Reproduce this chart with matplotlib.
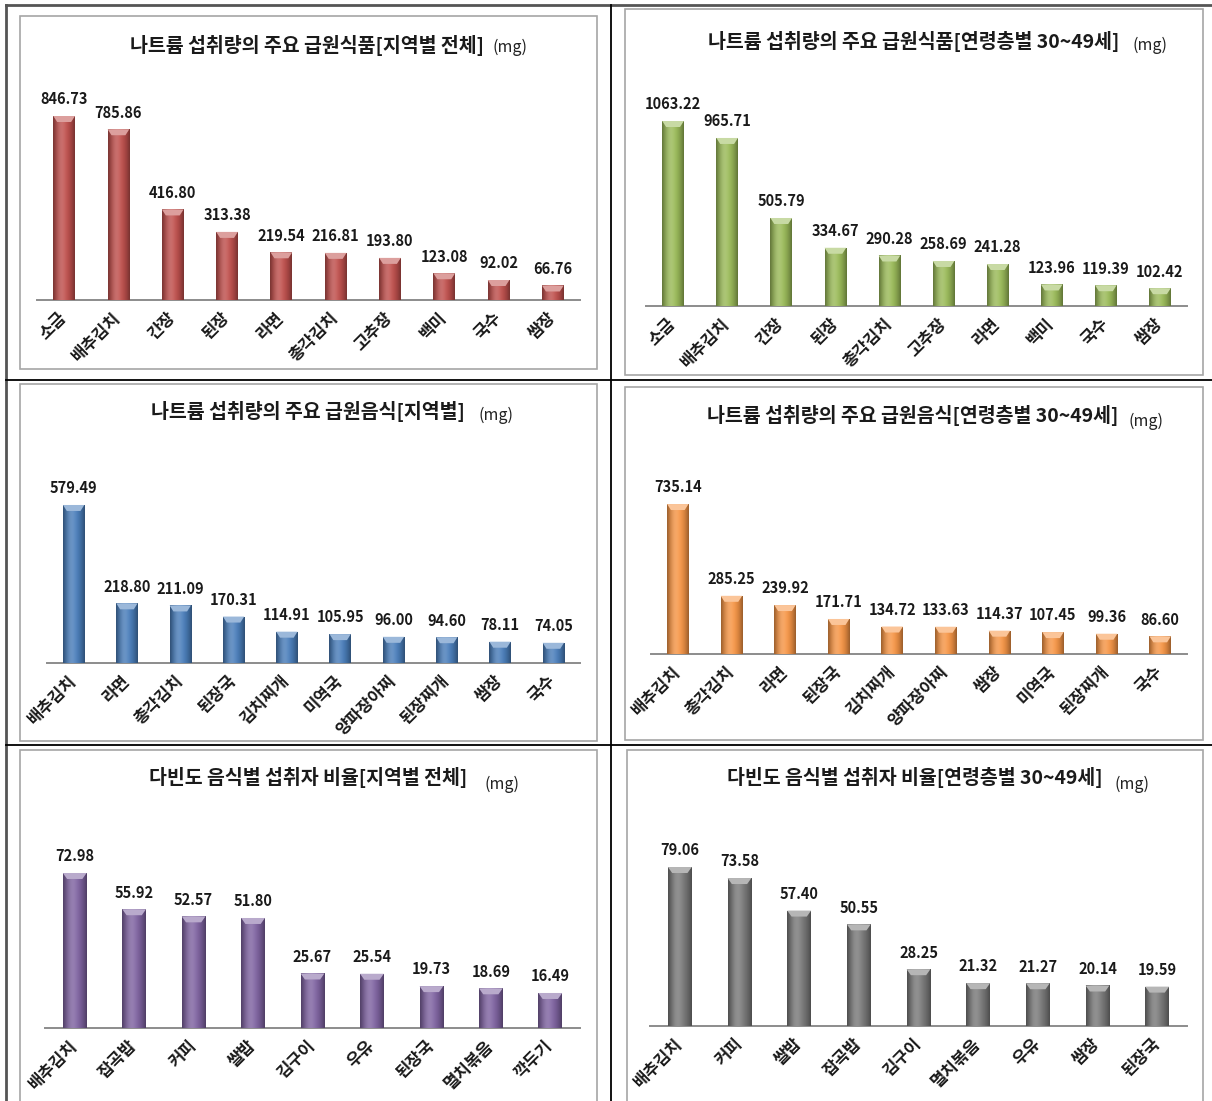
import numpy as np
import matplotlib
matplotlib.use('Agg')
import matplotlib.pyplot as plt
from matplotlib.patches import Rectangle, Polygon
from matplotlib.colors import to_rgb
from matplotlib.transforms import offset_copy

plt.rcParams['font.family'] = ['Noto Sans CJK KR', 'DejaVu Sans']

W, H = 1212, 1101

# 나트륨 주요 급원식품 (지역별 전체)
foods_all = ['소금', '배추김치', '간장', '된장', '라면', '총각김치', '고추장', '백미', '국수', '쌈장']
foods_all_mg = [846.73, 785.86, 416.80, 313.38, 219.54, 216.81, 193.80, 123.08, 92.02, 66.76]

# 나트륨 주요 급원식품 (30~49세)
foods_3049 = ['소금', '배추김치', '간장', '된장', '총각김치', '고추장', '라면', '백미', '국수', '쌈장']
foods_3049_mg = [1063.22, 965.71, 505.79, 334.67, 290.28, 258.69, 241.28, 123.96, 119.39, 102.42]

# 나트륨 주요 급원음식 (지역별)
dishes_all = ['배추김치', '라면', '총각김치', '된장국', '김치찌개', '미역국', '양파장아찌', '된장찌개', '쌈장', '국수']
dishes_all_mg = [579.49, 218.80, 211.09, 170.31, 114.91, 105.95, 96.00, 94.60, 78.11, 74.05]

# 나트륨 주요 급원음식 (30~49세)
dishes_3049 = ['배추김치', '총각김치', '라면', '된장국', '김치찌개', '양파장아찌', '쌈장', '미역국', '된장찌개', '국수']
dishes_3049_mg = [735.14, 285.25, 239.92, 171.71, 134.72, 133.63, 114.37, 107.45, 99.36, 86.60]

# 다빈도 음식별 섭취자 비율 (지역별 전체)
freq_all = ['배추김치', '잡곡밥', '커피', '쌀밥', '김구이', '우유', '된장국', '멸치볶음', '깍두기']
freq_all_pct = [72.98, 55.92, 52.57, 51.80, 25.67, 25.54, 19.73, 18.69, 16.49]

# 다빈도 음식별 섭취자 비율 (30~49세)
freq_3049 = ['배추김치', '커피', '쌀밥', '잡곡밥', '김구이', '멸치볶음', '우유', '쌈장', '된장국']
freq_3049_pct = [79.06, 73.58, 57.40, 50.55, 28.25, 21.32, 21.27, 20.14, 19.59]

# panel layout in pixels: inner box, axis line (x0, x1, baseline), px per unit
panels = [
    dict(cats=foods_all, vals=foods_all_mg, color='#C0504D',
         box=(20, 16, 597, 369), axis=(37, 580, 300), scale=0.2173,
         title='나트륨 섭취량의 주요 급원식품[지역별 전체]', tpos=(307, 46), mpos=(492, 47)),
    dict(cats=foods_3049, vals=foods_3049_mg, color='#9BBB59',
         box=(625, 9, 1203, 375), axis=(646, 1187, 306), scale=0.1740,
         title='나트륨 섭취량의 주요 급원식품[연령층별 30~49세]', tpos=(914, 41), mpos=(1132, 45)),
    dict(cats=dishes_all, vals=dishes_all_mg, color='#4A7EBB',
         box=(20, 384, 597, 741), axis=(47, 580, 663), scale=0.2727,
         title='나트륨 섭취량의 주요 급원음식[지역별]', tpos=(308, 412), mpos=(479, 415)),
    dict(cats=dishes_3049, vals=dishes_3049_mg, color='#F79646',
         box=(625, 387, 1203, 740), axis=(651, 1187, 654), scale=0.2040,
         title='나트륨 섭취량의 주요 급원음식[연령층별 30~49세]', tpos=(913, 416), mpos=(1129, 421)),
    dict(cats=freq_all, vals=freq_all_pct, color='#8064A2',
         box=(20, 750, 597, 1110), axis=(45, 580, 1028), scale=2.124,
         title='다빈도 음식별 섭취자 비율[지역별 전체]', tpos=(308, 778), mpos=(484, 784)),
    dict(cats=freq_3049, vals=freq_3049_pct, color='#7A7A7A',
         box=(627, 750, 1203, 1110), axis=(650, 1187, 1026), scale=2.011,
         title='다빈도 음식별 섭취자 비율[연령층별 30~49세]', tpos=(915, 778), mpos=(1114, 784)),
]


def mix(c, other, t):
    c, other = np.array(to_rgb(c)), np.array(to_rgb(other))
    return np.clip(c * (1 - t) + other * t, 0, 1)


def cylinder_bar(ax, x, h, width, color, px_unit):
    """Bar with a horizontal cylinder shading and a bevelled light cap"""
    rect = Rectangle((x - width / 2, 0), width, h, facecolor=color, edgecolor='none', zorder=2)
    ax.add_patch(rect)
    t = np.linspace(-1, 1, 64)
    base = np.array(to_rgb(color))
    dark = 1 - 0.38 * t ** 2
    light = 0.18 * np.exp(-((t + 0.25) / 0.45) ** 2)
    grad = base[None, :] * dark[:, None]
    grad = grad * (1 - light[:, None]) + light[:, None]
    img = ax.imshow(np.clip(grad, 0, 1)[None, :, :], extent=(x - width / 2, x + width / 2, 0, h),
                    aspect='auto', interpolation='bicubic', zorder=3)
    img.set_clip_path(rect)
    # top bevel
    dy = 6 / px_unit
    cap = Polygon([(x - width / 2, h), (x + width / 2, h),
                   (x + width * 0.32, h - dy), (x - width * 0.32, h - dy)],
                  closed=True, facecolor=mix(color, 'white', 0.45), edgecolor='none', zorder=4)
    ax.add_patch(cap)


fig = plt.figure(figsize=(W / 100, H / 100), dpi=100)

# table frame and chart boxes drawn on a pixel-space backdrop
bg = fig.add_axes([0, 0, 1, 1])
bg.set_xlim(0, W)
bg.set_ylim(H, 0)
bg.axis('off')
bg.plot([6, 6], [5, H], color='#555555', lw=2)
bg.plot([6, W], [5, 5], color='#555555', lw=2)
bg.plot([611, 611], [5, H], color='black', lw=1.3)
for yy in (380, 745):
    bg.plot([6, W], [yy, yy], color='black', lw=1.3)

for p in panels:
    l, t, r, b = p['box']
    bg.add_patch(Rectangle((l, t), r - l, b - t, facecolor='white', edgecolor='#A6A6A6', lw=1.2))
    bg.text(*p['tpos'], p['title'], ha='center', va='center', fontsize=14, fontweight='bold', color='#1a1a1a')
    bg.text(*p['mpos'], '(mg)', ha='left', va='center', fontsize=11.5, color='#222222')

    x0, x1, base_y = p['axis']
    top_y = t + 60
    ax = fig.add_axes([x0 / W, 1 - base_y / H, (x1 - x0) / W, (base_y - top_y) / H])
    ax.patch.set_visible(False)
    n = len(p['vals'])
    for i, v in enumerate(p['vals']):
        cylinder_bar(ax, i, v, 0.4, p['color'], p['scale'])
    ax.set_xlim(-0.5, n - 0.5)
    ax.set_ylim(0, (base_y - top_y) / p['scale'])

    lab_tr = offset_copy(ax.transData, fig=fig, y=12, units='points')
    for i, v in enumerate(p['vals']):
        ax.text(i, v, f'{v:.2f}', transform=lab_tr, ha='center', va='center',
                fontsize=10.5, fontweight='bold', color='#1a1a1a')

    for side in ('top', 'right', 'left'):
        ax.spines[side].set_visible(False)
    ax.spines['bottom'].set_color('#8C8C8C')
    ax.spines['bottom'].set_linewidth(1.4)
    ax.set_yticks([])
    ax.set_xticks(range(n))
    ax.set_xticklabels(p['cats'], rotation=45, ha='right', va='center', rotation_mode='anchor',
                       fontsize=12, fontweight='bold', color='#1a1a1a')
    ax.tick_params(axis='x', length=0, pad=11)

fig.savefig('out.png', dpi=100)
